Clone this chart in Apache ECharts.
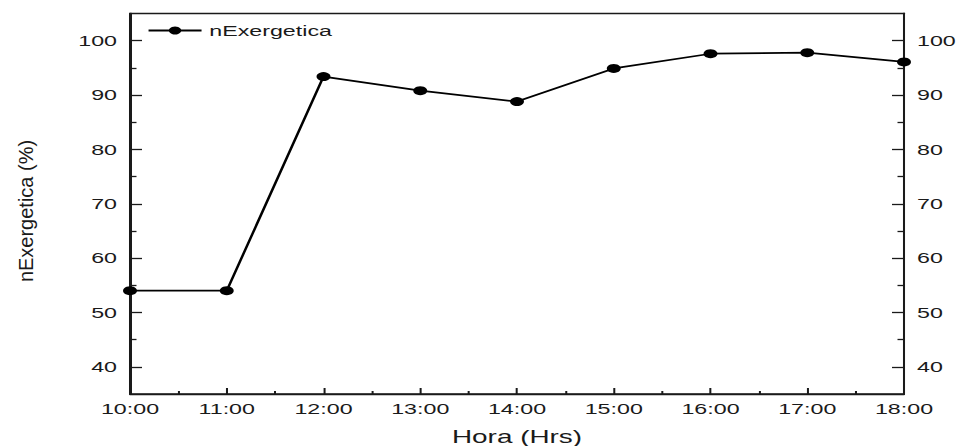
<!DOCTYPE html>
<html>
<head>
<meta charset="utf-8">
<script src="https://cdn.jsdelivr.net/npm/echarts@6/dist/echarts.min.js"></script>
<style>
  html, body { margin: 0; padding: 0; background: #fff; overflow: hidden; }
  #wrap { width: 959px; height: 446px; overflow: hidden; }
  #chart { height: 446px; transform-origin: 0 0; }
</style>
</head>
<body>
<div id="wrap"><div id="chart"></div></div>
<script>
// Hourly exergetic efficiency
const hours = [10, 11, 12, 13, 14, 15, 16, 17, 18];
const nExergetica = [54.0, 54.0, 93.4, 90.8, 88.8, 94.9, 97.6, 97.8, 96.1];
const majorTicksY = [40, 50, 60, 70, 80, 90, 100];
const minorTicksY = [45, 55, 65, 75, 85, 95];
const seriesName = 'nExergetica';
const xTitle = 'Hora (Hrs)';
const yTitle = 'nExergetica (%)';

// The chart is laid out in a narrower box and widened horizontally.
const FULL_W = 959;
const BASE_W = 619;
const SX = FULL_W / BASE_W;
const el = document.getElementById('chart');
el.style.width = BASE_W + 'px';
el.style.transform = 'scaleX(' + SX + ')';

const FONT = "'Liberation Sans', Arial, sans-serif";
const INK = '#1a1a1a';
const px = v => v / SX;

const yRange = { min: 35, max: 105 };

function yAxisDef(position, labelled, ticks, tickLen) {
  return {
    type: 'value',
    position: position,
    min: yRange.min,
    max: yRange.max,
    splitLine: { show: false },
    axisLine: { show: true, lineStyle: { color: INK, width: 1.3 } },
    axisTick: {
      show: true, inside: true, length: tickLen,
      customValues: ticks,
      lineStyle: { color: INK, width: 1.3 }
    },
    axisLabel: labelled ? {
      show: true, customValues: ticks, margin: px(13),
      color: INK, fontFamily: FONT, fontSize: 15
    } : { show: false }
  };
}

const chart = echarts.init(el, null, { renderer: 'svg', width: BASE_W, height: 446 });

chart.setOption({
  backgroundColor: '#fff',
  animation: false,
  grid: {
    left: px(130), right: BASE_W - px(904), top: 13.5, bottom: 52,
    outerBoundsMode: 'none', containLabel: false,
    show: true, borderColor: INK, borderWidth: 1.3, backgroundColor: 'transparent'
  },
  legend: {
    data: [seriesName],
    left: px(147), top: 23, padding: 0,
    itemWidth: px(53), itemHeight: 10,
    textStyle: { color: INK, fontFamily: FONT, fontSize: 15 }
  },
  xAxis: {
    type: 'value',
    min: hours[0], max: hours[hours.length - 1], interval: 1,
    name: xTitle, nameLocation: 'middle', nameGap: 34,
    nameTextStyle: { color: INK, fontFamily: FONT, fontSize: 18 },
    splitLine: { show: false },
    axisLine: { show: true, lineStyle: { color: INK, width: 1.3 } },
    axisTick: { show: true, inside: true, length: 6, lineStyle: { color: INK, width: 1.3 } },
    minorTick: { show: true, splitNumber: 2, length: 3, lineStyle: { color: INK, width: 1.3 } },
    axisLabel: {
      margin: 7, color: INK, fontFamily: FONT, fontSize: 15,
      formatter: v => v + ':00'
    }
  },
  yAxis: [
    yAxisDef('left', true, majorTicksY, px(12)),
    yAxisDef('left', false, minorTicksY, px(6.5)),
    yAxisDef('right', true, majorTicksY, px(12)),
    yAxisDef('right', false, minorTicksY, px(6.5))
  ],
  graphic: [{
    type: 'text',
    x: px(26), y: 211,
    rotation: Math.PI / 2,
    scaleY: 1 / SX,
    style: {
      text: yTitle, x: 0, y: 0,
      align: 'center', verticalAlign: 'middle',
      font: "20px 'Liberation Sans', Arial, sans-serif",
      fill: INK
    }
  }],
  series: [{
    name: seriesName,
    type: 'line',
    yAxisIndex: 0,
    data: hours.map((h, i) => [h, nExergetica[i]]),
    symbol: 'circle',
    symbolSize: 9,
    showAllSymbol: true,
    clip: false,
    itemStyle: { color: '#000' },
    lineStyle: { color: '#000', width: 1.7 }
  }]
});
</script>
</body>
</html>
